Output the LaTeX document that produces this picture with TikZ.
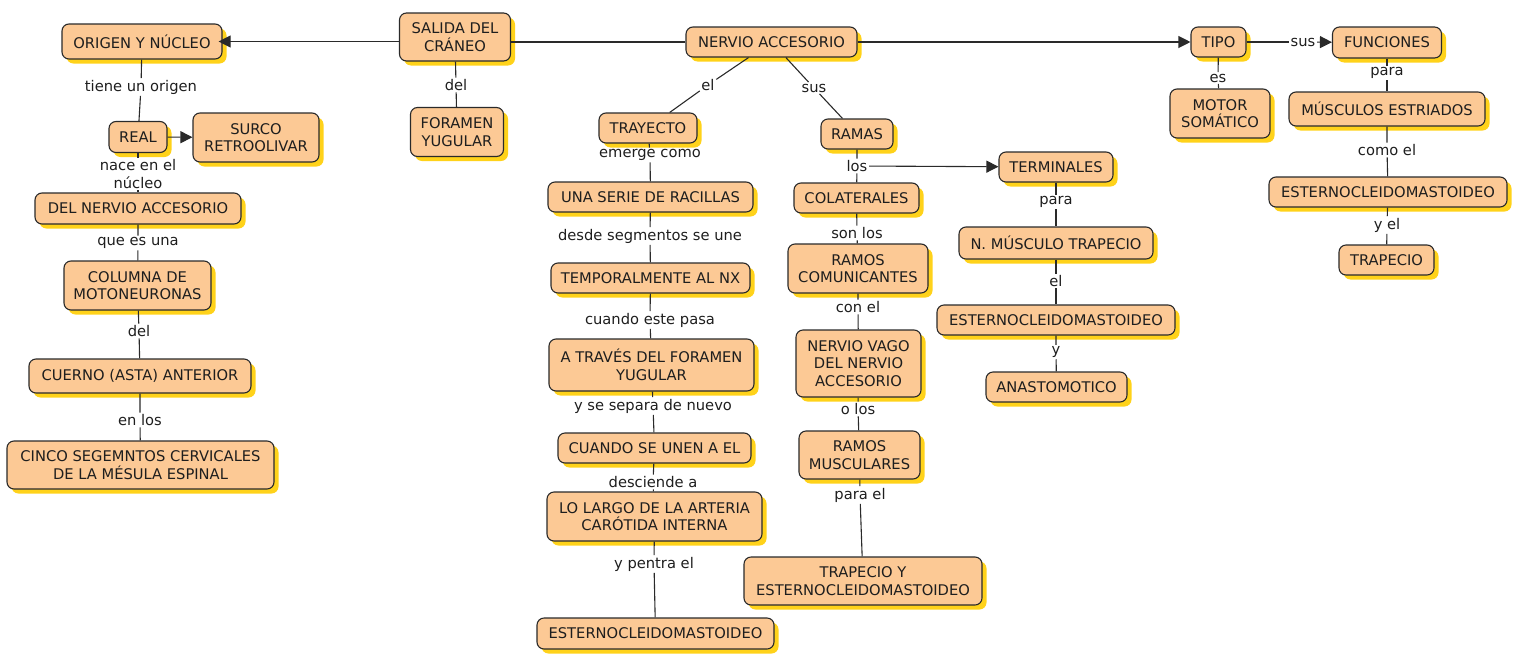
\documentclass[tikz,border=0pt]{standalone}
\usepackage{fontspec}
\setmainfont{DejaVu Sans}
\usetikzlibrary{arrows.meta,shadows}
\definecolor{peach}{HTML}{FCC995}
\definecolor{shy}{HTML}{FFD21A}
\definecolor{ink}{HTML}{1E1E1E}
\definecolor{edge}{HTML}{2A2A2A}
\tikzset{
  concept/.style={draw=edge, line width=1.1pt, fill=peach, rounded corners=7pt,
    align=center, inner sep=0pt, text=ink,
    font=\fontsize{14.7}{17.5}\selectfont,
    general shadow={fill=shy, shadow xshift=4.5pt, shadow yshift=-4.5pt}},
  lab/.style={inner sep=1.5pt, align=center, text=ink,
    font=\fontsize{14.7}{17.5}\selectfont},
  conn/.style={draw=edge, line width=1.1pt},
  arr/.style={conn, -{Triangle[length=12pt,width=12pt]}}
}
\begin{document}
\begin{tikzpicture}[x=1pt,y=-1pt]
\useasboundingbox (0,0) rectangle (1520,659);
% ---- concepts
\node[concept, minimum width=160pt, minimum height=35pt] (origen) at (142,41.5) {ORIGEN Y NÚCLEO};
\node[concept, minimum width=111pt, minimum height=48pt] (salida) at (455,37) {SALIDA DEL\\CRÁNEO};
\node[concept, minimum width=93pt, minimum height=49pt] (foramen) at (457,132) {FORAMEN\\YUGULAR};
\node[concept, minimum width=58pt, minimum height=31pt] (real) at (138,137) {REAL};
\node[concept, minimum width=126pt, minimum height=49pt] (surco) at (256,137.5) {SURCO\\RETROOLIVAR};
\node[concept, minimum width=206pt, minimum height=31pt] (delnervio) at (138,208.5) {DEL NERVIO ACCESORIO};
\node[concept, minimum width=147pt, minimum height=49pt] (columna) at (137.5,285.5) {COLUMNA DE\\MOTONEURONAS};
\node[concept, minimum width=222pt, minimum height=34pt] (cuerno) at (140,376) {CUERNO (ASTA) ANTERIOR};
\node[concept, minimum width=267pt, minimum height=48pt] (cinco) at (140.5,465) {CINCO SEGEMNTOS CERVICALES\\DE LA MÉSULA ESPINAL};
\node[concept, minimum width=171pt, minimum height=30pt] (nervio) at (771.5,42) {NERVIO ACCESORIO};
\node[concept, minimum width=98pt, minimum height=30pt] (trayecto) at (648,128) {TRAYECTO};
\node[concept, minimum width=72pt, minimum height=30pt] (ramas) at (857,134) {RAMAS};
\node[concept, minimum width=205pt, minimum height=30pt] (serie) at (650.5,197) {UNA SERIE DE RACILLAS};
\node[concept, minimum width=125pt, minimum height=30pt] (colat) at (856.5,198) {COLATERALES};
\node[concept, minimum width=199pt, minimum height=30pt] (temporal) at (650.5,278) {TEMPORALMENTE AL NX};
\node[concept, minimum width=205pt, minimum height=52pt] (traves) at (651.5,365) {A TRAVÉS DEL FORAMEN\\YUGULAR};
\node[concept, minimum width=193pt, minimum height=30pt] (cuando) at (654.5,448) {CUANDO SE UNEN A EL};
\node[concept, minimum width=215pt, minimum height=49pt] (largo) at (654.5,516.5) {LO LARGO DE LA ARTERIA\\CARÓTIDA INTERNA};
\node[concept, minimum width=237pt, minimum height=31pt] (esterA) at (655.5,633.5) {ESTERNOCLEIDOMASTOIDEO};
\node[concept, minimum width=140pt, minimum height=49pt] (comunic) at (858,268.5) {RAMOS\\COMUNICANTES};
\node[concept, minimum width=125pt, minimum height=67pt] (vago) at (858.5,363.5) {NERVIO VAGO\\DEL NERVIO\\ACCESORIO};
\node[concept, minimum width=121pt, minimum height=48pt] (muscul) at (859.5,455) {RAMOS\\MUSCULARES};
\node[concept, minimum width=238pt, minimum height=48pt] (trapester) at (863,581) {TRAPECIO Y\\ESTERNOCLEIDOMASTOIDEO};
\node[concept, minimum width=114pt, minimum height=30pt] (termin) at (1056,167) {TERMINALES};
\node[concept, minimum width=194pt, minimum height=32pt] (ntrap) at (1056,243) {N. MÚSCULO TRAPECIO};
\node[concept, minimum width=238pt, minimum height=30pt] (esterB) at (1056,320) {ESTERNOCLEIDOMASTOIDEO};
\node[concept, minimum width=141pt, minimum height=30pt] (anast) at (1056.5,387) {ANASTOMOTICO};
\node[concept, minimum width=55pt, minimum height=30pt] (tipo) at (1218.5,42) {TIPO};
\node[concept, minimum width=109pt, minimum height=31pt] (funciones) at (1387,42.5) {FUNCIONES};
\node[concept, minimum width=100pt, minimum height=49pt] (motor) at (1220,113.5) {MOTOR\\SOMÁTICO};
\node[concept, minimum width=196pt, minimum height=34pt] (estriados) at (1387,109) {MÚSCULOS ESTRIADOS};
\node[concept, minimum width=238pt, minimum height=30pt] (esterC) at (1388,192) {ESTERNOCLEIDOMASTOIDEO};
\node[concept, minimum width=95pt, minimum height=30pt] (trapecio) at (1386.5,260) {TRAPECIO};
% ---- linking phrases
\node[lab] (l1) at (141,87) {tiene un origen};
\node[lab] (l2) at (138,174) {nace en el\\núcleo};
\node[lab] (l3) at (138,243) {que es una};
\node[lab] (l4) at (139,331) {del};
\node[lab] (l5) at (140,420) {en los};
\node[lab] (l6) at (456,85) {del};
\node[lab] (l7) at (708,85) {el};
\node[lab] (l8) at (814,88) {sus};
\node[lab] (l9) at (650,155) {emerge como};
\node[lab] (l10) at (650,236) {desde segmentos se une};
\node[lab] (l11) at (650,320) {cuando este pasa};
\node[lab] (l12) at (653,406) {y se separa de nuevo};
\node[lab] (l13) at (653,482) {desciende a};
\node[lab] (l14) at (654,564) {y pentra el};
\node[lab] (l15) at (857,166) {los};
\node[lab] (l16) at (857,233) {son los};
\node[lab] (l17) at (858,307) {con el};
\node[lab] (l18) at (858,409) {o los};
\node[lab] (l19) at (860,495) {para el};
\node[lab] (l20) at (1056,202) {para};
\node[lab] (l21) at (1056,281) {el};
\node[lab] (l22) at (1056,352) {y};
\node[lab] (l23) at (1218,78) {es};
\node[lab] (l24) at (1303,42) {sus};
\node[lab] (l25) at (1387,73) {para};
\node[lab] (l26) at (1387,150) {como el};
\node[lab] (l27) at (1387,225) {y el};
% ---- connectors
\draw[conn] (nervio.west) -- (salida.east |- nervio.west);
\draw[arr, shorten >=-4pt] (salida.west |- origen.east) -- (origen.east);
\draw[arr] (nervio) -- (tipo);
\draw[conn] (origen) -- (l1) -- (real);
\draw[arr] (real) -- (surco);
\draw[conn] (real) -- (l2) -- (delnervio);
\draw[conn] (delnervio) -- (l3) -- (columna);
\draw[conn] (columna) -- (l4) -- (cuerno);
\draw[conn] (cuerno) -- (l5) -- (cinco);
\draw[conn] (salida) -- (l6) -- (foramen);
\draw[conn] (nervio) -- (l7) -- (trayecto);
\draw[conn] (nervio) -- (l8) -- (ramas);
\draw[conn] (trayecto) -- (l9) -- (serie);
\draw[conn] (serie) -- (l10) -- (temporal);
\draw[conn] (temporal) -- (l11) -- (traves);
\draw[conn] (traves) -- (l12) -- (cuando);
\draw[conn] (cuando) -- (l13) -- (largo);
\draw[conn] (largo) -- (l14) -- (esterA);
\draw[conn] (ramas) -- (l15) -- (colat);
\draw[arr] (l15) -- (termin);
\draw[conn] (colat) -- (l16) -- (comunic);
\draw[conn] (comunic) -- (l17) -- (vago);
\draw[conn] (vago) -- (l18) -- (muscul);
\draw[conn] (muscul) -- (l19) -- (trapester);
\draw[conn] (termin) -- (l20) -- (ntrap);
\draw[conn] (ntrap) -- (l21) -- (esterB);
\draw[conn] (esterB) -- (l22) -- (anast);
\draw[conn] (tipo) -- (l23) -- (motor);
\draw[conn] (tipo) -- (l24);
\draw[arr] (l24) -- (funciones);
\draw[conn] (funciones) -- (l25) -- (estriados);
\draw[conn] (estriados) -- (l26) -- (esterC);
\draw[conn] (esterC) -- (l27) -- (trapecio);
\end{tikzpicture}
\end{document}
